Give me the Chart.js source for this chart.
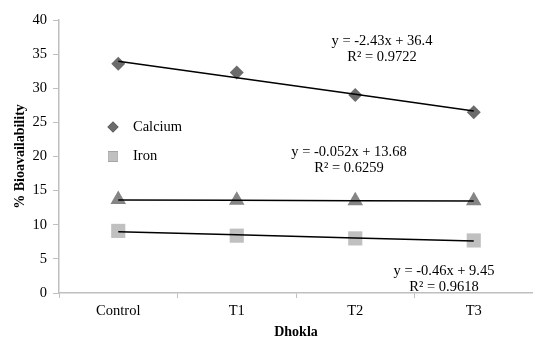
<!DOCTYPE html>
<html><head><meta charset="utf-8">
<script src="https://cdn.jsdelivr.net/npm/chart.js@4/dist/chart.umd.min.js"></script>
<style>html,body{margin:0;padding:0;background:#fff}#wrap{width:533px;height:338px}</style>
</head><body><div id="wrap"><canvas id="c" width="533" height="338"></canvas></div>
<script>
const categories = ['Control', 'T1', 'T2', 'T3'];
const calcium = [33.6, 32.3, 29.0, 26.5];
const iron = [9.1, 8.4, 8.0, 7.7];
const third = [13.7, 13.6, 13.5, 13.5];
const calciumTrend = [33.97, 31.54, 29.11, 26.68];
const thirdTrend = [13.63, 13.58, 13.52, 13.47];
const ironTrend = [8.99, 8.53, 8.07, 7.61];
const yTicks = [0, 5, 10, 15, 20, 25, 30, 35, 40];
const equations = [
  ['y = -2.43x + 36.4', 'R² = 0.9722'],
  ['y = -0.052x + 13.68', 'R² = 0.6259'],
  ['y = -0.46x + 9.45', 'R² = 0.9618']
];
const eqPos = [[382, 41, 57.5], [349, 152.5, 168], [444, 271, 287.5]];
const FONT = '"Liberation Serif", "Times New Roman", serif';
const C_CA = '#6b6b6b', C_TRI = '#858585', C_FE = '#c0c0c0';

const annot = {
  id: 'annot',
  afterDatasetsDraw(chart) {
    const ctx = chart.ctx;
    ctx.save();
    ctx.fillStyle = '#000';
    ctx.font = '14.5px ' + FONT;
    ctx.textAlign = 'center';
    ctx.textBaseline = 'middle';
    equations.forEach((e, i) => {
      ctx.fillText(e[0], eqPos[i][0], eqPos[i][1]);
      ctx.fillText(e[1], eqPos[i][0], eqPos[i][2]);
    });
    // legend
    const items = [[0, 'Calcium', 127], [1, 'Iron', 156.5]];
    items.forEach(([di, label, y]) => {
      const ds = chart.data.datasets[di];
      Chart.helpers.drawPoint(ctx, {pointStyle: ds.pointStyle, radius: di === 0 ? 5.5 : 7, rotation: 0}, 113, y);
      ctx.fillStyle = ds.backgroundColor;
      ctx.fill();
      ctx.fillStyle = '#000';
      ctx.textAlign = 'left';
      ctx.fillText(label, 133, y);
    });
    ctx.restore();
  }
};

new Chart(document.getElementById('c'), {
  type: 'line',
  data: {
    labels: categories,
    datasets: [
      {label: 'Calcium', data: calcium, showLine: false, pointStyle: 'rectRot', pointRadius: 7, backgroundColor: C_CA, borderColor: C_CA, borderWidth: 0, order: 1},
      {label: 'Iron', data: iron, showLine: false, pointStyle: 'rect', pointRadius: 10, backgroundColor: C_FE, borderColor: C_FE, borderWidth: 0, order: 1},
      {label: 'Series3', data: third, showLine: false, pointStyle: 'triangle', pointRadius: 9, backgroundColor: C_TRI, borderColor: C_TRI, borderWidth: 0, order: 1},
      {label: 't1', data: calciumTrend, borderColor: '#000', borderWidth: 1.5, pointRadius: 0, fill: false, order: 0},
      {label: 't2', data: thirdTrend, borderColor: '#000', borderWidth: 1.5, pointRadius: 0, fill: false, order: 0},
      {label: 't3', data: ironTrend, borderColor: '#000', borderWidth: 1.5, pointRadius: 0, fill: false, order: 0}
    ]
  },
  options: {
    responsive: false,
    animation: false,
    layout: {autoPadding: false, padding: {left: 0, right: -2, top: 20, bottom: 0}},
    plugins: {legend: {display: false}, tooltip: {enabled: false}},
    scales: {
      x: {
        offset: true,
        grid: {display: true, drawOnChartArea: false, offset: true, color: '#bfbfbf', tickLength: 5, tickColor: '#bfbfbf'},
        border: {color: '#bfbfbf', width: 1.5},
        ticks: {color: '#000', font: {family: FONT, size: 14.5}, padding: 4, maxRotation: 0},
        title: {display: true, text: 'Dhokla', color: '#000', font: {family: FONT, size: 14, weight: 'bold', lineHeight: 1}, padding: {top: 0, bottom: -1}},
        afterFit(s) { s.height = 45; }
      },
      y: {
        min: 0, max: 40,
        afterBuildTicks(s) { s.ticks = yTicks.map(v => ({value: v})); },
        grid: {display: true, drawOnChartArea: false, color: '#bfbfbf', tickLength: 6, tickColor: '#bfbfbf'},
        border: {color: '#bfbfbf', width: 1.5},
        ticks: {color: '#000', font: {family: FONT, size: 14.5}, padding: 6},
        title: {display: true, text: '% Bioavailability', color: '#000', font: {family: FONT, size: 14, weight: 'bold', lineHeight: 1}, padding: {top: 13, bottom: 0}},
        afterFit(s) { s.width = 59; }
      }
    }
  },
  plugins: [annot]
});
</script></body></html>
